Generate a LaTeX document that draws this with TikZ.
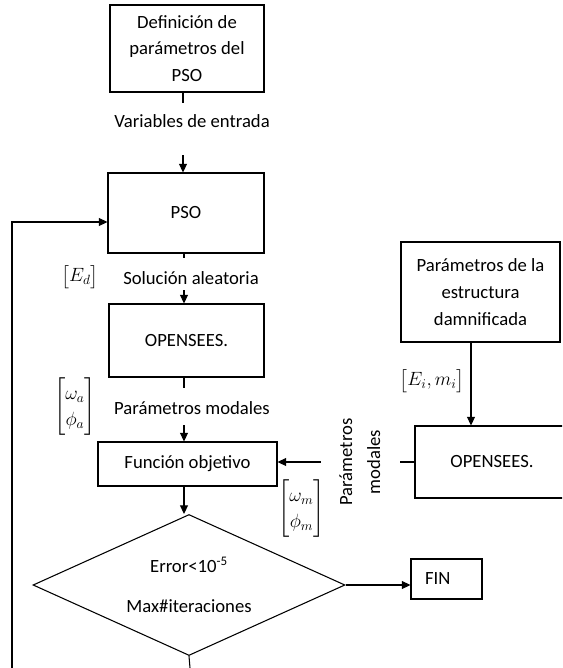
\documentclass[tikz,border=0pt]{standalone}
\usepackage{amsmath}
\usepackage{fontspec}
\setmainfont{Carlito}
\usetikzlibrary{shapes.geometric,arrows.meta,calc}
\newdimen\px \px=0.75pt
\begin{document}
\begin{tikzpicture}[x=0.75pt,y=-0.75pt, line width=0.8pt,
  box/.style={draw, align=center, inner sep=0pt, font=\fontsize{14}{20}\selectfont},
  lbl/.style={font=\fontsize{14}{17}\selectfont, inner sep=0pt},
  arr/.style={-{Triangle[length=6.5pt,width=6pt]}}]
\useasboundingbox (0,0) rectangle (562,668);
\clip (0,0) rectangle (562,668);
% main column
\node[box, minimum width=154\px, minimum height=87\px] (def) at (187,48.5) {Definición de\\parámetros del\\PSO};
\node[lbl] (var) at (192,121) {Variables de entrada};
\node[box, minimum width=156\px, minimum height=80\px] (pso) at (186,213) {PSO};
\node[lbl] (sol) at (191,278) {Solución aleatoria};
\node[lbl] (ed) at (80,277) {$\bigl[E_d\bigr]$};
\node[box, minimum width=155\px, minimum height=73\px] (ops) at (186.5,340.5) {OPENSEES.};
\node[lbl] (pm) at (192,408) {Parámetros modales};
\node[lbl] (wa) at (75,407) {\renewcommand\arraystretch{1.15}$\begin{bmatrix}\omega_a\\ \phi_a\end{bmatrix}$};
\node[box, minimum width=179\px, minimum height=44\px] (fobj) at (187.5,464) {Función objetivo};
\node[lbl] (wm) at (301.5,509) {\renewcommand\arraystretch{1.15}$\begin{bmatrix}\omega_m\\ \phi_m\end{bmatrix}$};
\node[draw, diamond, aspect=2.2, minimum width=312\px, minimum height=141\px, inner sep=0pt, align=center, font=\fontsize{14}{30}\selectfont] (dia) at (189,585) {Error<10\textsuperscript{-5}\\Max\#iteraciones};
\node[draw, lbl, text width=43\px, align=left, inner xsep=14\px, minimum height=40\px] (fin) at (446.5,579) {FIN};
% right column
\node[box, minimum width=159\px, minimum height=100\px] (pde) at (480.5,292) {Parámetros de la\\estructura\\damnificada};
\node[lbl] (eim) at (432,381) {$\bigl[E_i, m_i\bigr]$};
\node[box, minimum width=154\px, minimum height=72\px] (ops2) at (492,462) {OPENSEES.};
\node[lbl, inner xsep=11\px] (pm2) at (360.5,462) {\rotatebox{90}{\fontsize{14}{21}\selectfont\begin{tabular}{@{}c@{}}Parámetros\\modales\end{tabular}}};
% coordinates
\coordinate (a1) at (183,103);
\coordinate (a2) at (183,155);
\coordinate (b1) at (184,258);
\coordinate (b2) at (184,290);
\coordinate (c1) at (184,388);
\coordinate (c2) at (184,425);
\coordinate (lt) at (12,222);
\coordinate (lb) at (12,668);
\coordinate (db) at (190,668);
\coordinate (rc) at (471,0);
% connectors
\draw (a1 |- def.south) -- (a1);
\draw[arr] (a2) -- (a2 |- pso.north);
\draw (b1 |- pso.south) -- (b1);
\draw[arr] (b2) -- (b2 |- ops.north);
\draw (c1 |- ops.south) -- (c1);
\draw[arr] (c2) -- (c2 |- fobj.north);
\draw[arr] (c2 |- fobj.south) -- (c2 |- dia.north);
\draw[arr] (dia.east) -- (dia.east -| fin.west);
\draw (dia.south) -- (db);
\draw[arr] (lb) -- (lt) -- (lt -| pso.west);
\draw[arr] (rc |- pde.south) -- (rc |- ops2.north);
\draw (ops2.west) -- (pm2.east);
\draw[arr] (pm2.west) -- (pm2.west -| fobj.east);
\end{tikzpicture}
\end{document}
